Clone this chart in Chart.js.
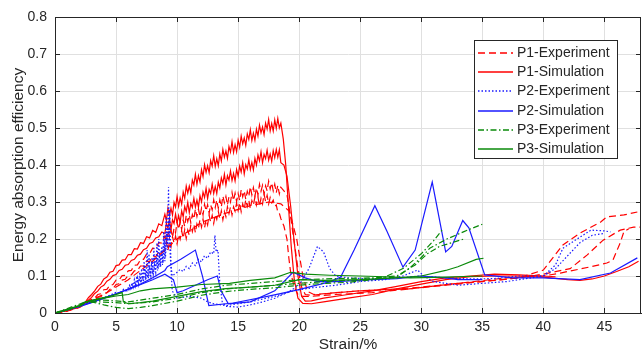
<!DOCTYPE html>
<html>
<head>
<meta charset="utf-8">
<script src="https://cdn.jsdelivr.net/npm/chart.js@4.4.1/dist/chart.umd.min.js"></script>
<style>
html,body{margin:0;padding:0;background:#fff;}
#wrap{width:643px;height:356px;}
</style>
</head>
<body>
<div id="wrap"><canvas id="c" width="643" height="356"></canvas></div>
<script>
// ---- axis ticks ----
const strainTicks = [0, 5, 10, 15, 20, 25, 30, 35, 40, 45];
const efficiencyTicks = [0, 0.1, 0.2, 0.3, 0.4, 0.5, 0.6, 0.7, 0.8];

// ---- series names (legend order) ----
const seriesNames = ['P1-Experiment', 'P1-Simulation', 'P2-Experiment', 'P2-Simulation', 'P3-Experiment', 'P3-Simulation'];

// ---- P1 simulation curves [strain %, efficiency] ----
const p1SimA = [[0,0],[1,0.006],[2,0.018],[2.5,0.03],[2.75,0.042],
  [3,.05],[3.25,.06],[3.5,.072],[3.75,.078],[4,.092],[4.25,.097],[4.5,.11],[4.75,.113],[5,.128],[5.25,.13],[5.5,.143],[5.75,.144],
  [6,.158],[6.25,.158],[6.5,.174],[6.75,.173],[7,.19],[7.25,.188],[7.5,.206],[7.75,.203],[8,.223],[8.25,.218],[8.5,.241],[8.75,.236],
  [9,.267],[9.125,.250],[9.25,.283],[9.375,.264],[9.5,.283],[9.625,.265],[9.75,.299],[9.875,.286],
  [10,.315],[10.125,.288],[10.25,.311],[10.375,.294],[10.5,.327],[10.625,.310],[10.75,.343],[10.875,.324],
  [11,.343],[11.125,.325],[11.25,.359],[11.375,.346],[11.5,.375],[11.625,.348],[11.75,.371],[11.875,.354],
  [12,.387],[12.125,.369],[12.25,.401],[12.375,.380],[12.5,.398],[12.625,.379],[12.75,.412],[12.875,.397],
  [13,.425],[13.125,.396],[13.25,.417],[13.375,.398],[13.5,.430],[13.625,.411],[13.75,.442],[13.875,.421],
  [14,.438],[14.125,.418],[14.25,.450],[14.375,.435],[14.5,.463],[14.625,.434],[14.75,.455],[14.875,.436],
  [15,.467],[15.125,.448],[15.25,.478],[15.375,.457],[15.5,.473],[15.625,.453],[15.75,.484],[15.875,.469],
  [16,.495],[16.125,.466],[16.25,.486],[16.375,.467],[16.5,.497],[16.625,.478],[16.75,.508],[16.875,.487],
  [17,.503],[17.125,.482],[17.25,.513],[17.375,.497],[17.5,.523],[17.625,.492],[17.75,.512],[17.875,.492],
  [18,.522],[18.125,.499],[18.25,.526],[18.375,.500],[18.5,.513],
  [18.7,0.47],[18.9,0.4],[19.1,0.3],[19.35,0.18],[19.6,0.09],[19.9,0.04],[20.3,0.026],[21,0.025],[22,0.03],[24,0.04],[26,0.05],[28,0.065],
  [30,0.078],[32,0.09],[34,0.098],[36,0.1],[38,0.1],[40,0.097],[42,0.09],[43,0.088],[44,0.092],[45,0.1],[46,0.112],[47,0.125],[47.8,0.14]];

const p1SimB = [[0,0],[1,0.006],[2,0.016],[2.5,0.027],[2.75,0.035],
  [3,.042],[3.25,.053],[3.5,.059],[3.75,.07],[4,.075],[4.25,.086],[4.5,.091],[4.75,.101],[5,.104],[5.25,.115],[5.5,.118],[5.75,.129],
  [6,.131],[6.25,.142],[6.5,.145],[6.75,.156],[7,.159],[7.25,.171],[7.5,.175],[7.75,.188],[8,.191],[8.25,.203],[8.5,.206],[8.75,.219],
  [9,.215],[9.125,.243],[9.25,.229],[9.375,.254],[9.5,.226],[9.625,.252],[9.75,.242],[9.875,.267],
  [10,.243],[10.125,.263],[10.25,.245],[10.375,.276],[10.5,.260],[10.625,.288],[10.75,.274],[10.875,.299],
  [11,.271],[11.125,.296],[11.25,.285],[11.375,.310],[11.5,.286],[11.625,.305],[11.75,.286],[11.875,.317],
  [12,.300],[12.125,.327],[12.25,.312],[12.375,.337],[12.5,.309],[12.625,.334],[12.75,.323],[12.875,.348],
  [13,.323],[13.125,.342],[13.25,.323],[13.375,.354],[13.5,.338],[13.625,.365],[13.75,.350],[13.875,.375],
  [14,.346],[14.125,.371],[14.25,.359],[14.375,.384],[14.5,.358],[14.625,.377],[14.75,.357],[14.875,.388],
  [15,.370],[15.125,.397],[15.25,.381],[15.375,.406],[15.5,.376],[15.625,.401],[15.75,.389],[15.875,.414],
  [16,.388],[16.125,.407],[16.25,.387],[16.375,.418],[16.5,.400],[16.625,.427],[16.75,.411],[16.875,.436],
  [17,.406],[17.125,.429],[17.25,.417],[17.375,.440],[17.5,.413],[17.625,.430],[17.75,.410],[17.875,.439],
  [18,.420],[18.125,.442],[18.25,.421],[18.375,.441],[18.5,.406],
  [18.75,0.40],[19,0.37],[19.3,0.29],[19.6,0.19],[19.9,0.1],[20.2,0.045],[20.5,0.032],[21,0.033],[22,0.04],[24,0.05],[26,0.06],[28,0.072],
  [30,0.085],[32,0.095],[34,0.1],[36,0.105],[38,0.103],[40,0.1],[41,0.098]];

// ---- P1 experiment curves ----
const p1ExpA = [[0,0],[1,0.006],[2,0.016],[2.5,0.026],[2.75,0.03],
  [3,.037],[3.25,.040],[3.5,.050],[3.75,.052],[4,.063],[4.25,.064],[4.5,.075],[4.75,.077],[5,.089],[5.25,.089],[5.5,.101],[5.75,.102],
  [6,.114],[6.25,.115],[6.5,.129],[6.75,.130],[7,.144],[7.25,.145],[7.5,.159],[7.75,.160],[8,.175],[8.25,.174],[8.5,.190],[8.75,.189],
  [9,.208],[9.125,.192],[9.25,.223],[9.375,.206],[9.5,.225],[9.625,.205],[9.75,.229],[9.875,.217],
  [10,.246],[10.125,.226],[10.25,.247],[10.375,.226],[10.5,.251],[10.625,.234],[10.75,.264],[10.875,.247],
  [11,.265],[11.125,.244],[11.25,.266],[11.375,.254],[11.5,.281],[11.625,.261],[11.75,.281],[11.875,.260],
  [12,.283],[12.125,.265],[12.25,.294],[12.375,.276],[12.5,.293],[12.625,.270],[12.75,.292],[12.875,.279],
  [13,.306],[13.125,.285],[13.25,.305],[13.375,.283],[13.5,.306],[13.625,.287],[13.75,.316],[13.875,.298],
  [14,.315],[14.125,.292],[14.25,.314],[14.375,.300],[14.5,.326],[14.625,.304],[14.75,.324],[14.875,.301],
  [15,.323],[15.125,.304],[15.25,.333],[15.375,.314],[15.5,.330],[15.625,.307],[15.75,.329],[15.875,.315],
  [16,.341],[16.125,.319],[16.25,.339],[16.375,.316],[16.5,.338],[16.625,.319],[16.75,.348],[16.875,.329],
  [17,.345],[17.125,.322],[17.25,.344],[17.375,.330],[17.5,.356],[17.625,.335],[17.75,.352],[17.875,.330],
  [18,.348],[18.125,.325],[18.25,.345],[18.375,.322],[18.5,.340],
  [18.75,0.33],[19,0.32],[19.3,0.26],[19.6,0.19],[19.9,0.12],[20.2,0.07],[20.5,0.05],[21,0.048],[23,0.055],[25,0.06],[28,0.065],[30,0.07],
  [33,0.08],[36,0.088],[38,0.095],[40,0.105],[42.2,0.12],[43.6,0.157],[44.9,0.197],[46.3,0.224],[47.4,0.232],[48,0.232]];

const p1ExpB = [[0,0],[1,0.005],[2,0.015],[2.5,0.024],[2.75,0.027],
  [3,.031],[3.25,.034],[3.5,.042],[3.75,.044],[4,.052],[4.25,.055],[4.5,.064],[4.75,.066],[5,.077],[5.25,.079],[5.5,.089],[5.75,.091],
  [6,.102],[6.25,.103],[6.5,.114],[6.75,.115],[7,.127],[7.25,.127],[7.5,.140],[7.75,.139],[8,.153],[8.25,.152],[8.5,.166],[8.75,.163],
  [9,.169],[9.125,.192],[9.25,.169],[9.375,.192],[9.5,.179],[9.625,.206],[9.75,.189],[9.875,.208],
  [10,.187],[10.125,.211],[10.25,.199],[10.375,.222],[10.5,.202],[10.625,.225],[10.75,.201],[10.875,.224],
  [11,.210],[11.125,.238],[11.25,.220],[11.375,.239],[11.5,.217],[11.625,.241],[11.75,.229],[11.875,.252],
  [12,.232],[12.125,.254],[12.25,.230],[12.375,.252],[12.5,.238],[12.625,.264],[12.75,.246],[12.875,.264],
  [13,.242],[13.125,.265],[13.25,.253],[13.375,.275],[13.5,.255],[13.625,.276],[13.75,.252],[13.875,.274],
  [14,.260],[14.125,.287],[14.25,.269],[14.375,.287],[14.5,.265],[14.625,.287],[14.75,.275],[14.875,.297],
  [15,.277],[15.125,.298],[15.25,.274],[15.375,.295],[15.5,.280],[15.625,.306],[15.75,.288],[15.875,.305],
  [16,.282],[16.125,.304],[16.25,.292],[16.375,.313],[16.5,.292],[16.625,.313],[16.75,.289],[16.875,.310],
  [17,.295],[17.125,.321],[17.25,.302],[17.375,.318],[17.5,.295],[17.625,.312],[17.75,.298],[17.875,.305],
  [18,.288],[18.125,.292],[18.25,.272],[18.375,.270],[18.5,.255],
  [18.75,0.235],[19,0.2],[19.15,0.15],[19.3,0.11],[19.6,0.07],[19.9,0.05],[20.3,0.045],[21,0.045],[23,0.05],[26,0.055],[29,0.065],
  [32,0.075],[35,0.085],[38,0.095],[40,0.116],[41.6,0.184],[43,0.216],[44.7,0.246],[45.2,0.26],[46.6,0.265],[47.7,0.273]];

const p1ExpC = [[0,0],[1,0.006],[2,0.018],[2.5,0.03],[4,0.05],[6,0.09],[8,0.14],[9,0.17],[10,0.2],[12,0.245],[14,0.27],[16,0.29],
  [17.5,0.3],[18.5,0.295],[19.2,0.275],[19.8,0.2],[20.3,0.1],[20.7,0.058],[21.2,0.05],[25,0.06],[29,0.065],[33,0.08],[37,0.095],[40,0.1],
  [41.4,0.108],[43.9,0.125],[45.2,0.135],[45.7,0.143],[46.3,0.19],[46.6,0.22],[47,0.228]];

// ---- P2 experiment curves ----
const p2ExpA = [[0,0],[1,0.008],[2,0.018],[3,0.03],[4,0.042],[4.5,0.048],[5,0.056],[5.3,0.052],[5.6,0.064],[5.9,0.06],
  [6,.068],[6.1,.075],[6.2,.066],[6.3,.082],[6.4,.07],[6.5,.09],[6.6,.074],[6.7,.1],[6.8,.08],[6.9,.095],[7,.083],[7.1,.12],[7.2,.088],
  [7.3,.14],[7.4,.09],[7.5,.115],[7.6,.095],[7.7,.16],[7.8,.1],[7.9,.13],[8,.105],[8.1,.175],[8.2,.11],[8.3,.15],[8.4,.115],[8.5,.2],
  [8.6,.125],[8.7,.17],[8.8,.13],[8.9,.22],[9,.14],[9.1,.26],[9.2,.17],[9.3,.34],[9.35,.2],[9.4,.28],[9.5,.13],[9.6,.1],
  [10,0.11],[10.25,0.118],[10.5,0.112],[10.75,0.126],[11,0.12],[11.25,0.135],[11.5,0.128],[11.75,0.145],[12,0.138],[12.25,0.155],
  [12.5,0.148],[12.75,0.165],[13,0.16],[13.1,0.21],[13.2,0.165],[13.35,0.17],[13.5,0.08],[13.7,0.03],[14,0.018],[15,0.016],[16,0.022],
  [17,0.03],[18,0.04],[19,0.055],[20,0.075],[20.8,0.12],[21.5,0.18],[22,0.165],[22.5,0.12],[23,0.1],[24,0.095],[26,0.092],[28,0.095],
  [30,0.1],[32,0.095],[34,0.092],[36,0.093],[38,0.1],[40,0.1],[41,0.13],[41.6,0.175],[43,0.205],[43.9,0.224],[45,0.222],[45.5,0.219]];

const p2ExpB = [[0,0],[2,0.017],[4,0.04],[5,0.05],[5.5,0.058],
  [6.05,.062],[6.15,.07],[6.25,.063],[6.35,.078],[6.45,.068],[6.55,.085],[6.65,.072],[6.75,.095],[6.85,.078],[6.95,.11],[7.05,.082],
  [7.15,.1],[7.25,.086],[7.35,.13],[7.45,.09],[7.55,.17],[7.65,.094],[7.75,.12],[7.85,.1],[7.95,.15],[8.05,.105],[8.15,.13],[8.25,.11],
  [8.35,.19],[8.45,.12],[8.55,.15],[8.65,.125],[8.75,.18],[8.85,.135],[8.95,.2],[9.05,.15],[9.15,.22],[9.25,.18],[9.3,.25],[9.45,.15],
  [9.6,0.06],[10,0.04],[11,0.045],[12,0.04],[12.5,0.03],[13,0.025],[14,0.02],[16,0.03],[18,0.045],[19.5,0.06],[21,0.068],[23,0.075],
  [25,0.085],[27,0.09],[28.5,0.1],[29.7,0.116],[30.2,0.1],[31,0.085],[33,0.075],[35,0.08],[37,0.085],[39,0.095],[40,0.1],[41,0.12],
  [42,0.155],[43,0.19],[44,0.21],[45,0.215]];

// ---- P2 simulation curves ----
const p2SimA = [[0,0],[1,0.008],[2,0.018],[3,0.028],[4,0.04],[5,0.052],[6,0.065],[7,0.078],[8,0.095],[9,0.115],[9.2,0.125],[10.3,0.145],
  [11.5,0.17],[12.1,0.097],[12.6,0.02],[14.6,0.027],[17.4,0.045],[19.8,0.062],[22.5,0.084],[23.4,0.097],[24.5,0.17],[26.2,0.29],[27.2,0.22],
  [28.5,0.124],[29.5,0.17],[30.9,0.354],[32,0.165],[32.5,0.18],[33.4,0.25],[33.9,0.23],[35.2,0.103],[37.5,0.095],[40,0.095],[43,0.09],
  [45.5,0.108],[47.7,0.149]];

const p2SimB = [[0,0],[2,0.018],[4,0.04],[6,0.064],[8,0.09],[9,0.105],[9.7,0.09],[10,0.055],[10.5,0.06],[11.5,0.075],[12.5,0.09],[13.3,0.1],
  [13.6,0.06],[14.2,0.025],[16,0.03],[18,0.06],[19.5,0.11],[20.5,0.095],[21.5,0.085],[23,0.085],[26,0.09],[28,0.093],[30,0.1],[32,0.095],
  [33,0.09],[35,0.09]];

// ---- P3 experiment curves ----
const p3ExpA = [[0,0],[1,0.008],[2,0.02],[2.5,0.03],[3,0.03],[4,0.022],[5,0.015],[6,0.012],[7,0.015],[8,0.02],[10,0.032],[12,0.048],
  [14,0.058],[16,0.064],[18,0.068],[20,0.075],[22,0.08],[24,0.083],[26,0.09],[27,0.097],[28.5,0.12],[30,0.16],[31,0.195],[31.8,0.228]];

const p3ExpB = [[0,0],[2,0.018],[2.5,0.028],[3.5,0.03],[5,0.028],[6,0.025],[8,0.03],[10,0.04],[12,0.055],[14,0.065],[16,0.07],[18,0.075],
  [20,0.08],[22,0.085],[25,0.09],[28,0.097],[29,0.12],[30,0.15],[30.7,0.175],[32.1,0.2],[33.5,0.22],[35,0.24]];

const p3ExpC = [[0,0],[2.5,0.03],[4,0.035],[6,0.03],[8,0.04],[10,0.05],[12,0.065],[14,0.075],[16,0.08],[18,0.085],[20,0.09],[23,0.093],
  [26,0.095],[28,0.1],[29.5,0.13],[30.5,0.16],[31.5,0.18],[32.5,0.19],[33.5,0.2]];

// ---- P3 simulation curves ----
const p3SimA = [[0,0],[1,0.008],[2,0.02],[2.5,0.03],[3.5,0.038],[4.5,0.045],[5.5,0.055],[5.6,0.03],[6,0.025],[7,0.028],[8,0.032],[10,0.045],
  [12,0.058],[14,0.066],[16,0.07],[18,0.075],[19.3,0.085],[20,0.09],[22,0.088],[25,0.09],[28,0.095],[30,0.1],[32,0.115],[33,0.125],
  [34.5,0.145],[35.1,0.148]];

const p3SimB = [[0,0],[2,0.02],[2.5,0.03],[4,0.04],[5,0.046],[6,0.05],[7,0.06],[8,0.065],[10,0.07],[12,0.077],[14.3,0.08],[16,0.088],
  [18,0.095],[19.3,0.11],[20.5,0.105],[22.5,0.102],[25,0.1],[27,0.098],[29.1,0.095],[32,0.097],[35,0.1]];

// ---- line styles per series ----
const seriesStyle = {
  'P1-Experiment': { color: '#ff0000', dash: [7, 4] },
  'P1-Simulation': { color: '#ff0000', dash: [] },
  'P2-Experiment': { color: '#1a1aff', dash: [1.5, 2] },
  'P2-Simulation': { color: '#1a1aff', dash: [] },
  'P3-Experiment': { color: '#0a8a0a', dash: [6, 2.5, 1.5, 2.5] },
  'P3-Simulation': { color: '#0a8a0a', dash: [] }
};

// drawing order: first entry ends up on top
const curves = [
  ['P3-Simulation', p3SimA], ['P3-Simulation', p3SimB],
  ['P3-Experiment', p3ExpA], ['P3-Experiment', p3ExpB], ['P3-Experiment', p3ExpC],
  ['P2-Simulation', p2SimA], ['P2-Simulation', p2SimB],
  ['P2-Experiment', p2ExpA], ['P2-Experiment', p2ExpB],
  ['P1-Simulation', p1SimA], ['P1-Simulation', p1SimB],
  ['P1-Experiment', p1ExpA], ['P1-Experiment', p1ExpB], ['P1-Experiment', p1ExpC]
];

const FONT = '"Liberation Sans", Arial, Helvetica, sans-serif';
const INK = '#262626';

const datasets = curves.map(([name, pts]) => ({
  label: name,
  data: pts.map(([x, y]) => ({ x, y })),
  borderColor: seriesStyle[name].color,
  borderDash: seriesStyle[name].dash,
  borderWidth: 1.2,
  pointRadius: 0,
  fill: false,
  tension: 0
}));

// axes box with inward tick marks
const axesFrame = {
  id: 'axesFrame',
  afterDatasetsDraw(chart) {
    const { ctx, chartArea: a, scales: { x, y } } = chart;
    ctx.save();
    ctx.strokeStyle = INK;
    ctx.lineWidth = 1;
    ctx.setLineDash([]);
    ctx.beginPath();
    ctx.rect(Math.round(a.left) + 0.5, Math.round(a.top) + 0.5, Math.round(a.right - a.left) - 1, Math.round(a.bottom - a.top));
    const tl = 5;
    strainTicks.forEach(v => {
      const px = Math.round(x.getPixelForValue(v)) + 0.5;
      ctx.moveTo(px, a.bottom); ctx.lineTo(px, a.bottom - tl);
      ctx.moveTo(px, a.top); ctx.lineTo(px, a.top + tl);
    });
    efficiencyTicks.forEach(v => {
      const py = Math.round(y.getPixelForValue(v)) + 0.5;
      ctx.moveTo(a.left, py); ctx.lineTo(a.left + tl, py);
      ctx.moveTo(a.right, py); ctx.lineTo(a.right - tl, py);
    });
    ctx.stroke();
    ctx.restore();
  }
};

// framed legend in the upper right of the plot
const boxedLegend = {
  id: 'boxedLegend',
  afterDraw(chart) {
    const ctx = chart.ctx;
    const box = { left: 474, top: 40, width: 143, height: 118 };
    ctx.save();
    ctx.fillStyle = '#ffffff';
    ctx.fillRect(box.left, box.top, box.width, box.height);
    ctx.lineWidth = 1;
    ctx.setLineDash([]);
    ctx.strokeStyle = INK;
    ctx.strokeRect(box.left + 0.5, box.top + 0.5, box.width, box.height);
    ctx.font = '14px ' + FONT;
    ctx.textBaseline = 'middle';
    ctx.textAlign = 'left';
    seriesNames.forEach((name, i) => {
      const yy = Math.round(box.top + 13 + i * 19.2);
      const st = seriesStyle[name];
      ctx.beginPath();
      ctx.setLineDash(st.dash);
      ctx.lineWidth = 1.5;
      ctx.strokeStyle = st.color;
      ctx.moveTo(box.left + 4, yy);
      ctx.lineTo(box.left + 39, yy);
      ctx.stroke();
      ctx.fillStyle = INK;
      ctx.fillText(name, box.left + 43, yy);
    });
    ctx.restore();
  }
};

new Chart(document.getElementById('c'), {
  type: 'line',
  data: { datasets },
  plugins: [axesFrame, boxedLegend],
  options: {
    responsive: false,
    animation: false,
    devicePixelRatio: 1,
    layout: { padding: { left: 0, right: 2, top: 17, bottom: 0 } },
    plugins: { legend: { display: false }, tooltip: { enabled: false } },
    scales: {
      x: {
        type: 'linear', min: 0, max: 48,
        afterBuildTicks(s) { s.ticks = strainTicks.map(v => ({ value: v })); },
        ticks: { padding: 6, color: INK, maxRotation: 0, font: { family: FONT, size: 14 } },
        grid: { color: '#e0e0e0', drawTicks: false },
        border: { color: INK },
        title: { display: true, text: 'Strain/%', color: INK, font: { family: FONT, size: 15.5 }, padding: { top: 0, bottom: 2 } },
        afterFit(s) { s.height = 43; }
      },
      y: {
        min: 0, max: 0.8,
        afterBuildTicks(s) { s.ticks = efficiencyTicks.map(v => ({ value: v })); },
        ticks: { padding: 8, color: INK, font: { family: FONT, size: 14 }, callback: v => String(v) },
        grid: { color: '#e0e0e0', drawTicks: false },
        border: { color: INK },
        title: { display: true, text: 'Energy absorption efficiency', color: INK, font: { family: FONT, size: 15.5 }, padding: { top: 9, bottom: 0 } },
        afterFit(s) { s.width = 55; }
      }
    }
  }
});
</script>
</body>
</html>
